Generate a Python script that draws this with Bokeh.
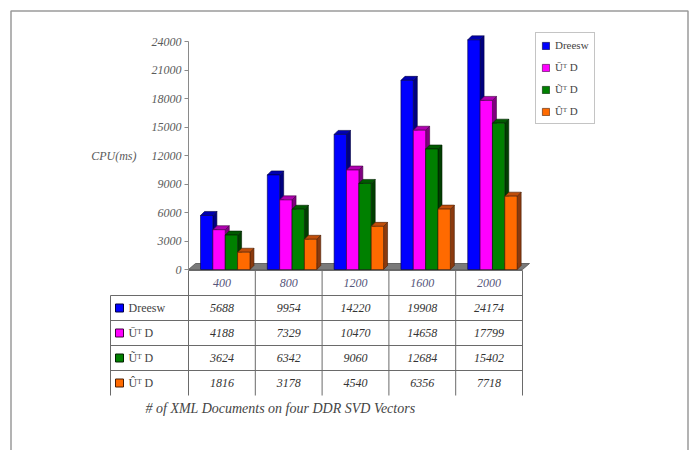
from bokeh.plotting import figure
from bokeh.models import Range1d, LinearAxis, FixedTicker, Legend, LegendItem, ColumnDataSource
from bokeh.core.properties import value
from bokeh.embed import file_html
from bokeh.resources import INLINE

# ---------------- data ----------------
categories = ["400", "800", "1200", "1600", "2000"]
series_names = ["Dreesw", "\u016a\u1d40 D", "\u0168\u1d40 D", "\u00db\u1d40 D"]
dreesw = [5688, 9954, 14220, 19908, 24174]
u_bar = [4188, 7329, 10470, 14658, 17799]
u_tilde = [3624, 6342, 9060, 12684, 15402]
u_hat = [1816, 3178, 4540, 6356, 7718]
series_values = [dreesw, u_bar, u_tilde, u_hat]
y_ticks = [0, 3000, 6000, 9000, 12000, 15000, 18000, 21000, 24000]
x_title = "# of XML Documents on four DDR SVD Vectors"
y_title = "CPU(ms)"

front_colors = ["#0000FF", "#FF00FF", "#008000", "#FF6A00"]
side_colors = ["#000080", "#800080", "#003F00", "#8B3A0E"]
top_colors = ["#0000B0", "#B000B0", "#005A00", "#C04E0A"]
edge_colors = ["#000040", "#400040", "#002000", "#4A1E05"]

# ---------------- layout helpers (pixel -> data) ----------------
W, H = 697, 450
AX_PX, CAT_PX = 188, 66.8
ZERO_PX, PX_PER_UNIT = 269, 0.0095
ROW0_PX, ROW_PX = 270, 25

def px2x(px):
    return (px - AX_PX) / CAT_PX

def py2v(py):
    return (ZERO_PX - py) / PX_PER_UNIT

def py2r(py):
    return (py - ROW0_PX) / ROW_PX

FONT = value("Liberation Serif")

p = figure(width=W, height=H,
           x_range=Range1d(px2x(0), px2x(W)),
           y_range=Range1d(py2v(H), py2v(0)),
           x_axis_location=None, y_axis_location=None,
           toolbar_location=None, output_backend="svg",
           min_border=0, outline_line_color=None,
           background_fill_color="white", border_fill_color="white")
p.title.visible = False
p.grid.visible = False
p.extra_y_ranges = {"tbl": Range1d(start=py2r(H), end=py2r(0))}

# outer frame border
p.quad(left=[px2x(10.5)], right=[px2x(687.5)], top=[py2v(10.5)], bottom=[py2v(480)],
       fill_alpha=0, line_color="#9a9a9a", line_width=1.5)

n = len(categories)
DX = 4 / CAT_PX
DY = 4 / PX_PER_UNIT
FDX = 7 / CAT_PX
FDY = 6 / PX_PER_UNIT

# floor
p.patch(x=[0, n, n + FDX, FDX], y=[0, 0, FDY, FDY],
        fill_color="#7a7a7a", line_color="#505050", line_width=0.8)

BAR_W = 0.185
BAR_START = 0.18
front_renderers = []
for k, vals in enumerate(series_values):
    lefts = [i + BAR_START + k * BAR_W for i in range(n)]
    rights = [l + BAR_W for l in lefts]
    side_xs = [[r, r + DX, r + DX, r] for r in rights]
    side_ys = [[0, DY, v + DY, v] for v in vals]
    top_xs = [[l, l + DX, r + DX, r] for l, r in zip(lefts, rights)]
    top_ys = [[v, v + DY, v + DY, v] for v in vals]
    p.patches(xs=side_xs, ys=side_ys, fill_color=side_colors[k],
              line_color=edge_colors[k], line_width=0.6)
    p.patches(xs=top_xs, ys=top_ys, fill_color=top_colors[k],
              line_color=edge_colors[k], line_width=0.6)
    src = ColumnDataSource(dict(left=lefts, right=rights, top=vals, bottom=[0] * n))
    r = p.quad(left="left", right="right", top="top", bottom="bottom", source=src,
               fill_color=front_colors[k], line_color=edge_colors[k], line_width=0.6)
    front_renderers.append(r)

# y axis placed at the first category edge
yaxis = LinearAxis(fixed_location=0, bounds=(0, 24000),
                   ticker=FixedTicker(ticks=y_ticks),
                   axis_label=y_title, axis_label_orientation="horizontal",
                   axis_label_standoff=12)
yaxis.axis_line_color = "#8a8a8a"
yaxis.major_tick_line_color = "#8a8a8a"
yaxis.major_tick_out = 4
yaxis.major_tick_in = 0
yaxis.minor_tick_line_color = None
yaxis.major_label_text_font = "Liberation Serif"
yaxis.major_label_text_font_style = "italic"
yaxis.major_label_text_font_size = "12px"
yaxis.major_label_text_color = "#5a5a5a"
yaxis.major_label_standoff = 3
yaxis.axis_label_text_font = "Liberation Serif"
yaxis.axis_label_text_font_style = "italic"
yaxis.axis_label_text_font_size = "12px"
yaxis.axis_label_text_color = "#5a5a5a"
p.add_layout(yaxis, "left")

# ---------------- data table ----------------
LBL_LEFT = px2x(110)
nrows = len(series_values)
vx0 = list(range(n + 1)) + [LBL_LEFT]
vy0 = [0] * (n + 1) + [1]
vy1 = [nrows + 1] * (n + 2)
p.segment(x0=vx0, y0=vy0, x1=vx0, y1=vy1, y_range_name="tbl",
          line_color="#6a6a6a", line_width=1)
hx0 = [0] + [LBL_LEFT] * nrows
hy = list(range(0, nrows + 1))
p.segment(x0=hx0, y0=hy, x1=[n] * (nrows + 1), y1=hy, y_range_name="tbl",
          line_color="#6a6a6a", line_width=1)

# header
p.text(x=[i + 0.5 for i in range(n)], y=[0.5] * n, text=categories, y_range_name="tbl",
       text_font=FONT, text_font_style="italic", text_font_size="12px",
       text_color="#55557a", text_align="center", text_baseline="middle")
# values
for k, vals in enumerate(series_values):
    p.text(x=[i + 0.5 for i in range(n)], y=[k + 1.5] * n, text=[str(v) for v in vals],
           y_range_name="tbl", text_font=FONT, text_font_style="italic",
           text_font_size="12px", text_color="#333333",
           text_align="center", text_baseline="middle")
# row labels
p.scatter(x=[px2x(119)] * nrows, y=[k + 1.5 for k in range(nrows)], marker="square",
          size=8, fill_color=front_colors, line_color=edge_colors, y_range_name="tbl")
p.text(x=[px2x(128)] * nrows, y=[k + 1.5 for k in range(nrows)], text=series_names,
       y_range_name="tbl", text_font=FONT, text_font_size="12px", text_color="#444444",
       text_align="left", text_baseline="middle")

# caption
p.text(x=[px2x(145)], y=[py2r(408)], text=[x_title], y_range_name="tbl",
       text_font=FONT, text_font_style="italic", text_font_size="14px",
       text_color="#444444", text_align="left", text_baseline="middle")

# ---------------- legend ----------------
legend = Legend(items=[LegendItem(label=series_names[k], renderers=[front_renderers[k]])
                       for k in range(nrows)],
                location=(535, H - 124))
legend.border_line_color = "#8a8a8a"
legend.border_line_width = 1
legend.background_fill_color = "white"
legend.padding = 5
legend.spacing = 8
legend.margin = 0
legend.label_height = 14
legend.glyph_height = 9
legend.glyph_width = 9
legend.label_standoff = 5
legend.label_text_font = "Liberation Serif"
legend.label_text_font_size = "11px"
legend.label_text_color = "#444444"
p.add_layout(legend)

open("out.html", "w").write(file_html(p, INLINE))
